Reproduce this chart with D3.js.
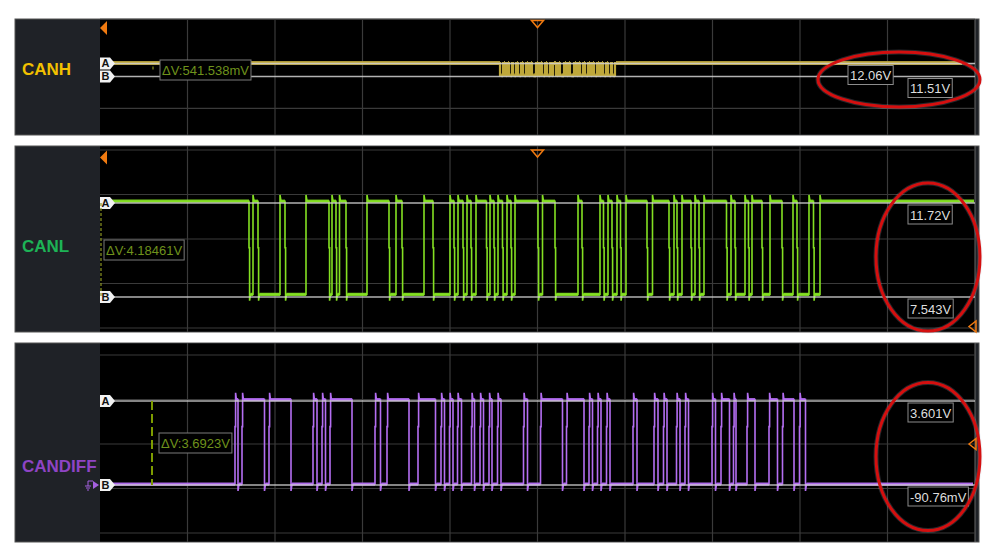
<!DOCTYPE html>
<html>
<meta charset="utf-8">
<script src="https://d3js.org/d3.v7.min.js"></script>
<style>
  body { margin: 0; background: #fff; }
  text { font-family: "Liberation Sans", Arial, sans-serif; }
</style>
<body>
<div id="vis"></div>
<script>

// channels
var channels = ["CANH", "CANL", "CANDIFF"];
// cursor readouts (V)
var cursorA = [12.06, 11.72, 3.601];
var cursorB = [11.51, 7.543, -0.09076];
var cursorALabels = ["12.06V", "11.72V", "3.601V"];
var cursorBLabels = ["11.51V", "7.543V", "-90.76mV"];
var deltaLabels = ["ΔV:541.538mV", "ΔV:4.18461V", "ΔV:3.6923V"];
// trace levels (V): idle (recessive) and active
var idleLevel = [12.08, 11.80, -0.05];
var activeLevel = [11.56, 7.66, 3.66];
// time where the ΔV marker sits (87.5 units per division)
var deltaTime = [53, 1, 52];
// end of each captured trace
var traceEnd = [862, 874, 873];

// active intervals [start, end] per channel
var canhPulses = [[400,403],[405,407],[409,412],[413,416],[418,421],[423,426],[428,430],[432,436],
  [438,440],[442,445],[447,450],[451,453],[456,458],[460,464],[466,468],[470,474],[476,478],
  [480,483],[485,488],[490,492],[494,497],[499,501],[503,506],[508,511],[512,515]];
var canlPulses = [[149,153],[158,180],[185,206],[229,232],[236,239.5],[246,267],[289,296],[302,324],
  [333,350],[354,358],[363,367],[371,376],[386.5,390],[394,398],[402.5,407],[411,415],[438,442.5],
  [455,478],[482,500],[503.5,508],[512,517],[520.5,526],[547,552.5],[569,574],[577,582],[591,595],
  [599,604],[626.5,631],[635,645],[648.5,652],[662,670],[682,693],[697,709],[713.5,720]];
var candiffPulses = [[135,138],[142,164.5],[169,191],[213,217],[222,225.5],[230,252],[275,280.5],
  [287,309],[318,335.5],[341,344.5],[349.5,353],[357.5,361.5],[371.5,374.5],[380,383.5],[389,392],
  [397.5,401],[423.5,427.5],[440.5,462.5],[466.5,484],[489,492.5],[497.5,501],[506.5,510],[533,537],
  [554,558],[563.5,567],[576.5,580],[585,588.5],[612,615.5],[621,629.5],[633.5,636],[647,655],
  [669,677.5],[682.5,694],[699.5,705.5]];
var allPulses = [canhPulses, canlPulses, candiffPulses];

// layout
var frameX0 = 15, frameX1 = 979, plotX0 = 100, plotX1 = 975;
var panels = [
  {top: 19, bottom: 135, yA: 63.5, yB: 76.5, grid0: 19.3, trace: "#bfa83a", label: "#f2c100", labelY: 75,
   band: 4, width: 2.2, shoot: 0, shelf: 0, aBoxX: 848, ellipse: [899, 79.5, 81, 27.5], boxOff: 7},
  {top: 146, bottom: 332, yA: 203, yB: 297, grid0: 150, trace: "#84e022", label: "#1db356", labelY: 252,
   band: 3.2, width: 1.6, shoot: 0.28, shelf: 0.5, aBoxX: 908, ellipse: [928, 257, 52, 74], boxOff: 3},
  {top: 343, bottom: 542, yA: 401, yB: 485, grid0: 355, trace: "#b46ef2", label: "#8e44c4", labelY: 472,
   band: 3.2, width: 1.6, shoot: 0.3, shelf: 0.68, aBoxX: 908, ellipse: [928, 456.5, 52, 74], boxOff: 7}
];

var svg = d3.select("#vis").append("svg")
  .attr("width", 1000).attr("height", 560);

var x = d3.scaleLinear().domain([0, 875]).range([plotX0, plotX1]);
var divTimes = d3.range(1, 10).map(function(k) { return k * 87.5; });

function buildTrace(pulses, idle, active, tEnd, shoot, shelfFrac) {
  var dir = active > idle ? 1 : -1;
  var pts = [[0, idle]], flats = [], last = 0;
  pulses.forEach(function(p) {
    var s = p[0], e = p[1];
    flats.push([last, s, idle]);
    pts.push([s, idle]);
    if (shelfFrac) {
      var m = idle + (active - idle) * shelfFrac;
      pts.push([s, m], [s + 0.6, m], [s + 0.6, active + dir * shoot]);
    } else {
      pts.push([s, active + dir * shoot]);
    }
    pts.push([s + 1.4, active], [e, active]);
    flats.push([s + 1.4, e, active]);
    pts.push([e, idle - dir * shoot], [e + 1, idle]);
    last = e + 1;
  });
  pts.push([tEnd, idle]);
  flats.push([last, tEnd, idle]);
  return {pts: pts, flats: flats};
}

var defs = svg.append("defs");

panels.forEach(function(p, i) {
  var g = svg.append("g");
  var y = d3.scaleLinear().domain([cursorB[i], cursorA[i]]).range([p.yB, p.yA]);

  // frame + label column
  g.append("rect").attr("x", frameX0).attr("y", p.top).attr("width", frameX1 - frameX0)
    .attr("height", p.bottom - p.top).attr("fill", "#1f2227").attr("stroke", "#555").attr("stroke-width", 1);
  g.append("rect").attr("x", plotX0).attr("y", p.top + 0.5).attr("width", plotX1 - plotX0)
    .attr("height", p.bottom - p.top - 1).attr("fill", "#000");
  g.append("line").attr("x1", plotX1).attr("x2", plotX1).attr("y1", p.top).attr("y2", p.bottom)
    .attr("stroke", "#666");

  defs.append("clipPath").attr("id", "clip" + i).append("rect")
    .attr("x", plotX0).attr("y", p.top).attr("width", plotX1 - plotX0).attr("height", p.bottom - p.top);

  // grid
  g.selectAll(".vg").data(divTimes).join("line")
    .attr("x1", function(d) { return x(d); }).attr("x2", function(d) { return x(d); })
    .attr("y1", p.top).attr("y2", p.bottom)
    .attr("stroke", "#3a3a3a").attr("stroke-width", 1.2);
  g.selectAll(".hg").data(d3.range(p.grid0, p.bottom - 2, 44.5)).join("line")
    .attr("x1", plotX0).attr("x2", plotX1)
    .attr("y1", function(d) { return d; }).attr("y2", function(d) { return d; })
    .attr("stroke", "#3a3a3a").attr("stroke-width", 1.2);

  // trace
  var tr = buildTrace(allPulses[i], idleLevel[i], activeLevel[i], traceEnd[i], p.shoot, p.shelf);
  var tg = g.append("g").attr("clip-path", "url(#clip" + i + ")");
  var line = d3.line().x(function(d) { return x(d[0]); }).y(function(d) { return y(d[1]); });
  tg.append("path").attr("d", line(tr.pts)).attr("fill", "none")
    .attr("stroke", p.trace).attr("stroke-width", p.width);
  tg.selectAll(".flat").data(tr.flats.filter(function(f) { return f[1] > f[0]; })).join("line")
    .attr("x1", function(d) { return x(d[0]); }).attr("x2", function(d) { return x(d[1]); })
    .attr("y1", function(d) { return y(d[2]); }).attr("y2", function(d) { return y(d[2]); })
    .attr("stroke", p.trace).attr("stroke-width", p.band).attr("opacity", 0.9);

  // cursor lines
  [cursorA[i], cursorB[i]].forEach(function(v) {
    g.append("line").attr("x1", plotX0).attr("x2", plotX1).attr("y1", y(v)).attr("y2", y(v))
      .attr("stroke", "#d2d2d2").attr("stroke-width", 1.6).attr("opacity", 0.85);
  });

  // cursor tags
  [["A", cursorA[i]], ["B", cursorB[i]]].forEach(function(c) {
    var cy = y(c[1]);
    g.append("path")
      .attr("d", "M" + plotX0 + "," + (cy - 6) + "h10l5,6l-5,6h-10z")
      .attr("fill", "#f2f2f2");
    g.append("text").attr("x", plotX0 + 5.5).attr("y", cy + 3.8).attr("text-anchor", "middle")
      .attr("font-size", 11).attr("font-weight", "bold").attr("fill", "#111").text(c[0]);
  });

  // ΔV marker
  var dx = x(deltaTime[i]);
  g.append("line").attr("x1", dx).attr("x2", dx)
    .attr("y1", y(cursorA[i]) + (i === 0 ? 3 : 0)).attr("y2", y(cursorB[i]) - (i === 0 ? 5 : 0))
    .attr("stroke", i === 2 ? "#7d9c00" : "#8a9420")
    .attr("stroke-width", i === 2 ? 2 : 1.2)
    .attr("stroke-dasharray", i === 2 ? "9,4" : "3,2");
  var midY = (y(cursorA[i]) + y(cursorB[i])) / 2;
  var dBox = g.append("rect").attr("y", midY - 10).attr("height", 20)
    .attr("fill", "#000").attr("stroke", "#7a7a7a").attr("stroke-width", 1);
  var dText = g.append("text").attr("x", dx + p.boxOff + 2).attr("y", midY + 4.5)
    .attr("font-size", 13).attr("fill", "#6f921c").text(deltaLabels[i]);
  dBox.attr("x", dx + p.boxOff).attr("width", dText.node().getComputedTextLength() + 4);

  // readout boxes
  [[p.aBoxX, y(cursorA[i]) + 2, cursorALabels[i]], [908, y(cursorB[i]) + 2, cursorBLabels[i]]].forEach(function(b) {
    var r = g.append("rect").attr("x", b[0]).attr("y", b[1]).attr("height", 19)
      .attr("fill", "#000").attr("stroke", "#8c8c8c").attr("stroke-width", 1);
    var t = g.append("text").attr("x", b[0] + 2).attr("y", b[1] + 14.5)
      .attr("font-size", 13).attr("fill", "#dedede").text(b[2]);
    r.attr("width", t.node().getComputedTextLength() + 4);
  });

  // channel label
  g.append("text").attr("x", 22).attr("y", p.labelY).attr("font-size", 17).attr("font-weight", "bold")
    .attr("fill", p.label).text(channels[i]);

  // highlight ellipse
  var e = p.ellipse;
  g.append("ellipse").attr("cx", e[0]).attr("cy", e[1]).attr("rx", e[2]).attr("ry", e[3])
    .attr("fill", "none").attr("stroke", "#b9c4d6").attr("stroke-width", 5).attr("opacity", 0.2);
  g.append("ellipse").attr("cx", e[0]).attr("cy", e[1]).attr("rx", e[2]).attr("ry", e[3])
    .attr("fill", "none").attr("stroke", "#d40f0f").attr("stroke-width", 3);
});

// trigger markers
var orange = "#f07a10";
[28, 157.5].forEach(function(ty) {
  svg.append("path").attr("d", "M100," + ty + "l7,-7v14z").attr("fill", orange);
});
[20.5, 150].forEach(function(ty) {
  var cx = x(437.5);
  svg.append("path").attr("d", "M" + (cx - 6) + "," + ty + "h12l-6,7z")
    .attr("fill", "none").attr("stroke", orange).attr("stroke-width", 1.5);
});
[326.5, 444].forEach(function(ty) {
  svg.append("path").attr("d", "M969," + ty + "l7,-5.5v11z")
    .attr("fill", "none").attr("stroke", orange).attr("stroke-width", 1.5);
});

// channel ground marker on CANDIFF
var gy = 485;
svg.append("path").attr("d", "M93," + (gy - 4) + "l6,4l-6,4z").attr("fill", "#a560e0");
svg.append("path").attr("d", "M88," + (gy - 4) + "v5M85," + (gy + 1) + "h6M86," + (gy + 3) + "h4M87," + (gy + 5) + "h2M88," + (gy - 4) + "h5")
  .attr("stroke", "#a560e0").attr("stroke-width", 1).attr("fill", "none");

</script>
</body>
</html>
